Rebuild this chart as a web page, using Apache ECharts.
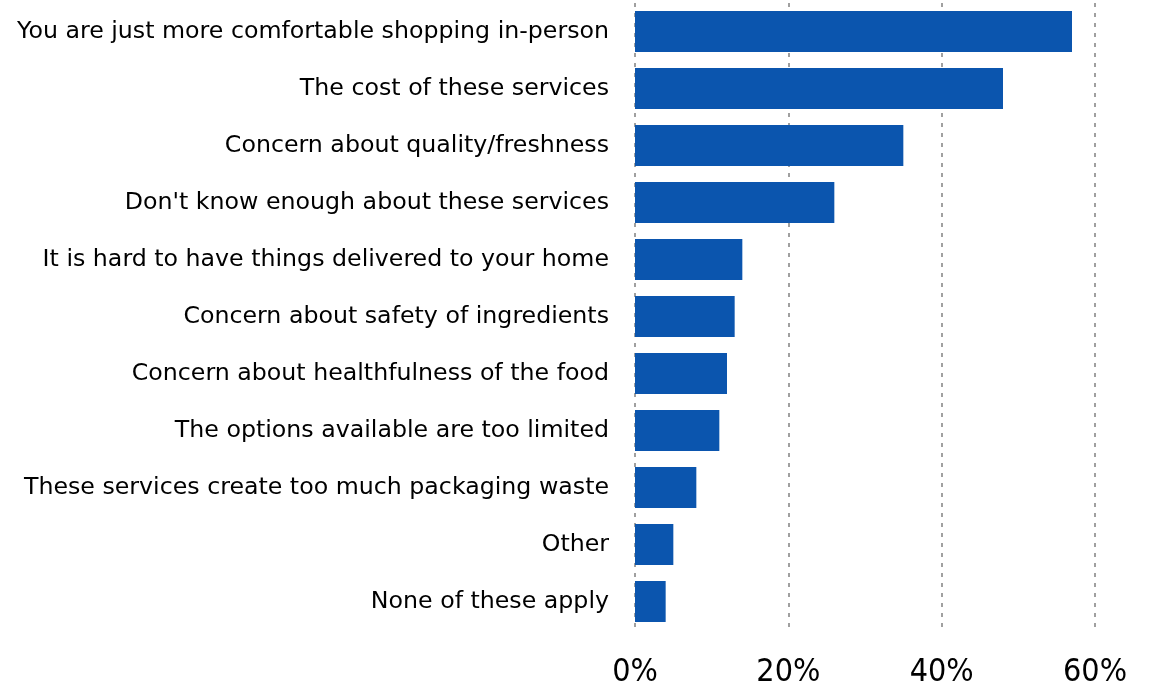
<!DOCTYPE html>
<html><head><meta charset="utf-8">
<script src="https://cdn.jsdelivr.net/npm/echarts@6/dist/echarts.min.js"></script>
<style>html,body{margin:0;padding:0;background:#fff}#c{width:1153px;height:686px}</style>
</head><body><div id="c"></div>
<script>
const categories = [
  "You are just more comfortable shopping in-person",
  "The cost of these services",
  "Concern about quality/freshness",
  "Don't know enough about these services",
  "It is hard to have things delivered to your home",
  "Concern about safety of ingredients",
  "Concern about healthfulness of the food",
  "The options available are too limited",
  "These services create too much packaging waste",
  "Other",
  "None of these apply"
];
const values = [57, 48, 35, 26, 14, 13, 12, 11, 8, 5, 4];
const tickValues = [0, 20, 40, 60];

const chart = echarts.init(document.getElementById('c'));
chart.setOption({
  animation: false,
  grid: {left: 635, right: 58, top: 3, bottom: 56, containLabel: false, outerBoundsMode: 'none'},
  xAxis: {
    type: 'value', min: tickValues[0], max: tickValues[tickValues.length - 1], interval: tickValues[1] - tickValues[0],
    axisLine: {show: false}, axisTick: {show: false},
    axisLabel: {formatter: v => v + '%', fontFamily: 'DejaVu Sans Condensed', fontSize: 32, color: '#000', margin: 27},
    splitLine: {show: true, lineStyle: {color: '#a0a0a0', width: 2, type: [4, 6]}}
  },
  yAxis: {
    type: 'category', data: categories, inverse: true,
    axisLine: {show: false}, axisTick: {show: false},
    axisLabel: {fontFamily: 'DejaVu Sans', fontSize: 23.7, color: '#000', margin: 26}
  },
  series: [{
    type: 'bar', data: values, barWidth: 41,
    itemStyle: {color: '#0b55ae'}
  }]
});
</script></body></html>
